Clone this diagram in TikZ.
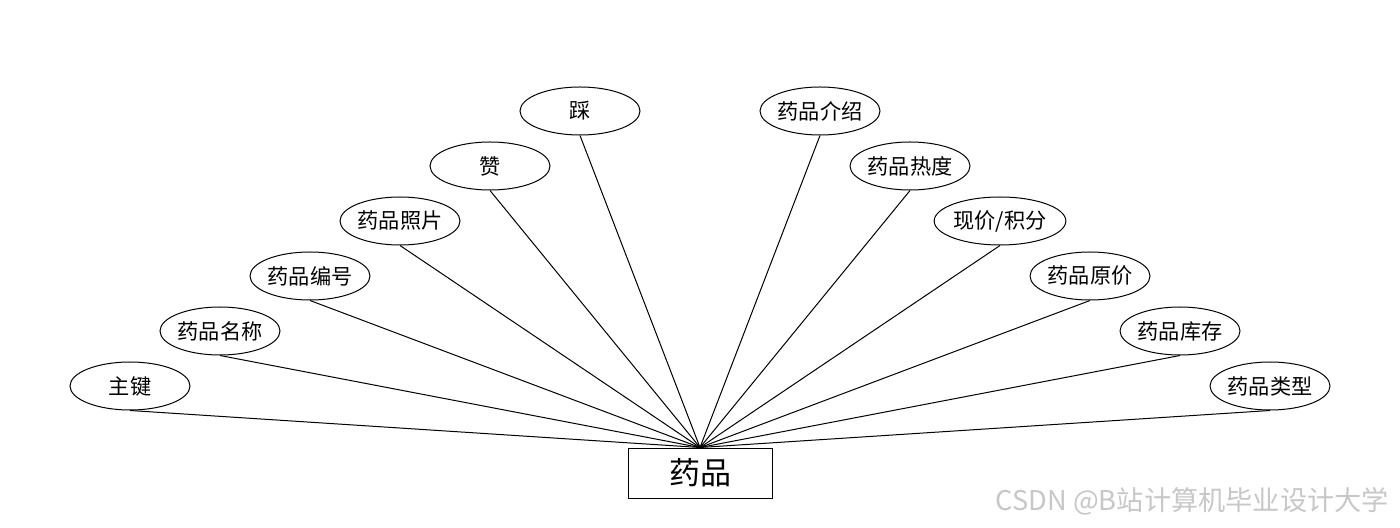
\documentclass[tikz,border=0pt]{standalone}
\usepackage{fontspec}
\setmainfont{Noto Sans CJK SC}
\usetikzlibrary{shapes.geometric}

\tikzset{
  attr/.style={draw, ellipse, minimum width=60pt, minimum height=24pt, inner sep=0pt, font=\fontsize{10.6}{13}\selectfont},
  entity/.style={draw, rectangle, minimum width=72pt, minimum height=25pt, inner sep=0pt, font=\fontsize{15.5}{18}\selectfont}
}

\begin{document}
\begin{tikzpicture}[x=0.5pt, y=-0.5pt, line width=0.5pt]
    \useasboundingbox (0,0) rectangle (1400,528);

    % 实体
    \node[entity] (drug) at (700, 473) {药品};

    % 左侧属性
    \node[attr] (pk)    at (130, 386) {主键};
    \node[attr] (name)  at (220, 331) {药品名称};
    \node[attr] (num)   at (310, 276) {药品编号};
    \node[attr] (photo) at (400, 221) {药品照片};
    \node[attr] (up)    at (490, 166) {赞};
    \node[attr] (down)  at (580, 111) {踩};

    % 右侧属性
    \node[attr] (intro) at (820, 111) {药品介绍};
    \node[attr] (heat)  at (910, 166) {药品热度};
    \node[attr] (price) at (1000, 221) {现价/积分};
    \node[attr] (orig)  at (1090, 276) {药品原价};
    \node[attr] (stock) at (1180, 331) {药品库存};
    \node[attr] (kind)  at (1270, 386) {药品类型};

    % 连线
    \foreach \a in {pk, name, num, photo, up, down, intro, heat, price, orig, stock, kind}
        \draw (\a.south) -- (drug.north);

    % 水印
    \node[anchor=east, text=black!22, font=\fontsize{13.6}{16}\selectfont] (mark) at (1396, 501) {CSDN @B站计算机毕业设计大学};
\end{tikzpicture}
\end{document}
